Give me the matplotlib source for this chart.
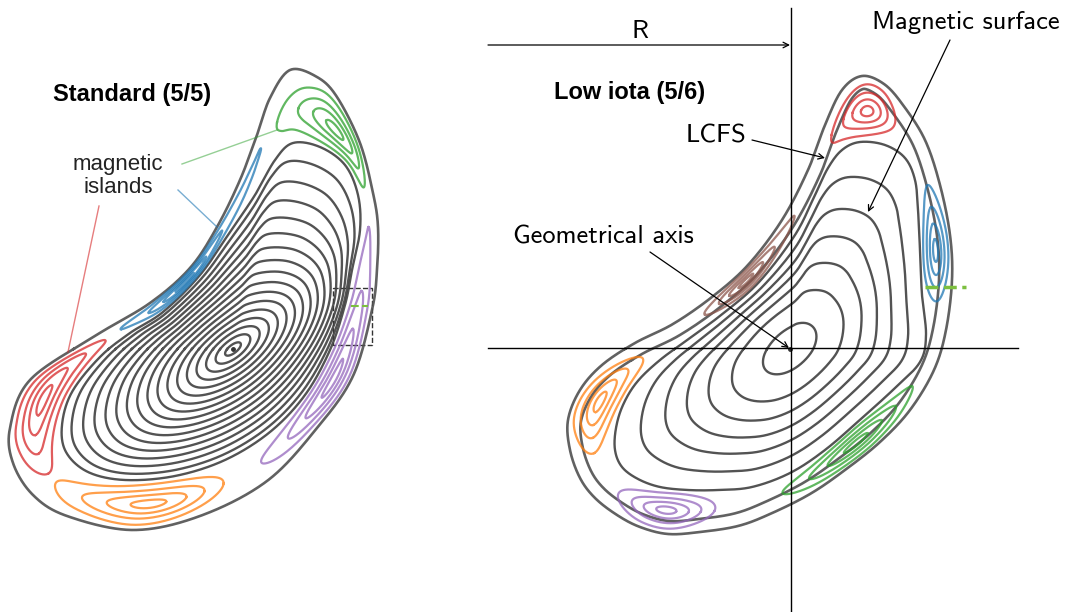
import numpy as np
import matplotlib.pyplot as plt

W, H = 1065, 612

# --- Standard configuration (5/5), left plot (pixel coordinates) ---
std_axis = (233, 349)
std_core = [(293, 143), (320, 147), (345, 165), (358, 195), (360, 230), (352, 270),
            (345, 305), (330, 350), (305, 395), (270, 432), (225, 460), (175, 476),
            (125, 480), (88, 472), (66, 452), (62, 425), (72, 392), (100, 357),
            (130, 333), (163, 312), (200, 275), (230, 232), (255, 195), (275, 160)]
std_edge = [(290, 70), (317, 77), (337, 97), (360, 143), (373, 193), (378, 227),
            (377, 270), (372, 310), (353, 376), (317, 428), (267, 481), (200, 516),
            (133, 530), (67, 516), (33, 495), (13, 463), (10, 428), (30, 380),
            (95, 336), (150, 303), (190, 268), (217, 227), (240, 180), (257, 135),
            (270, 98)]
std_ellipse = (38, 190, 82)       # tilt (deg), semi-axes of the inner surfaces
std_rho = [0.05, 0.11, 0.17, 0.23, 0.29, 0.35, 0.41, 0.47, 0.53, 0.59,
           0.65, 0.71, 0.77, 0.83, 0.89, 0.95, 1.0]
# islands: polar angle span around the axis (deg)
std_isl_span = [(51, 79), (82, 170), (176, 214), (217, 266), (-76, 42)]
std_isl_color = ['tab:green', 'tab:blue', 'tab:red', 'tab:orange', 'tab:purple']

# --- Low iota configuration (5/6), right plot ---
low_axis = (790, 349)
low_core = [(860, 142), (885, 145), (905, 158), (915, 180), (918, 210), (920, 250),
            (922, 295), (926, 335), (920, 362), (895, 388), (862, 418), (825, 450),
            (790, 473), (752, 487), (718, 490), (688, 490), (660, 487), (638, 479),
            (622, 467), (615, 450), (616, 428), (623, 405), (637, 382), (660, 360),
            (690, 338), (725, 312), (760, 281), (795, 235), (815, 195), (828, 168),
            (842, 150)]
low_edge = [(862, 76), (884, 84), (903, 105), (925, 140), (940, 185), (950, 235),
            (952, 280), (946, 330), (934, 370), (910, 410), (880, 442), (845, 470),
            (810, 494), (770, 514), (738, 526), (700, 532), (668, 534), (640, 527),
            (617, 515), (595, 498), (580, 478), (570, 450), (568, 420), (580, 390),
            (602, 365), (635, 343), (673, 324), (712, 297), (748, 265), (782, 220),
            (808, 170), (825, 125), (842, 90)]
low_ellipse = (42, 130, 75)
low_rho = [0.24, 0.47, 0.61, 0.72, 0.815, 0.91, 1.0]
low_isl_span = [(65, 79), (18, 50), (-93, -17), (-140, -115), (183, 208), (88, 158)]
low_isl_color = ['tab:red', 'tab:blue', 'tab:green', 'tab:purple', 'tab:orange', 'tab:brown']
low_outer = 13                    # spacing of the outermost surface, px

island_levels = [1.0, 0.7, 0.45, 0.2]


def closed_curve(pts, n=40):
    """Periodic Catmull-Rom curve through the outline points."""
    P = np.array(pts, dtype=float)
    N = len(P)
    t = np.linspace(0, 1, n, endpoint=False)[:, None]
    seg = []
    for i in range(N):
        p0, p1, p2, p3 = P[i - 1], P[i], P[(i + 1) % N], P[(i + 2) % N]
        seg.append(0.5 * (2 * p1 + (p2 - p0) * t
                          + (2 * p0 - 5 * p1 + 4 * p2 - p3) * t ** 2
                          + (3 * p1 - p0 - 3 * p2 + p3) * t ** 3))
    return np.vstack(seg)


def polar_profile(axis, pts):
    """Radius of the outline as a function of the polar angle around the axis."""
    xy = closed_curve(pts)
    phi = np.arctan2(axis[1] - xy[:, 1], xy[:, 0] - axis[0])
    r = np.hypot(xy[:, 0] - axis[0], xy[:, 1] - axis[1])
    order = np.argsort(phi)
    phi, r = phi[order], r[order]
    return lambda p: np.interp(p, phi, r, period=2 * np.pi)


def to_xy(axis, r, phi):
    return axis[0] + r * np.cos(phi), axis[1] - r * np.sin(phi)


def draw_config(ax, axis, core, edge, ellipse, rhos, spans, colors, n_outer=1):
    r_core = polar_profile(axis, core)
    r_edge = polar_profile(axis, edge)
    tilt, ea, eb = ellipse
    phi = np.linspace(-np.pi, np.pi, 2001)
    q = phi - np.radians(tilt)
    r_ell = 1 / np.hypot(np.cos(q) / ea, np.sin(q) / eb)
    for rho in rhos:
        w = rho ** 2
        r = rho * ((1 - w) * r_ell + w * r_core(phi))
        ax.plot(*to_xy(axis, r, phi), color='#404040', lw=1.7, alpha=0.9)

    x, y = to_xy(axis, r_edge(phi), phi)
    ax.plot(x, y, color='#505050', lw=1.9, alpha=0.9)
    if n_outer > 1:
        tx, ty = np.roll(x, -1) - np.roll(x, 1), np.roll(y, -1) - np.roll(y, 1)
        n = np.hypot(tx, ty)
        ax.plot(x + low_outer * ty / n, y - low_outer * tx / n,
                color='#505050', lw=1.9, alpha=0.9)

    t = np.linspace(0, 2 * np.pi, 400)
    for (a1, a2), c in zip(spans, colors):
        p1, p2 = np.radians(a1), np.radians(a2)
        pc, dp = (p1 + p2) / 2, (p2 - p1) / 2
        for k in island_levels:
            pp = pc + k * dp * np.cos(t)
            f = 0.5 + 0.4 * k * np.sin(t)
            r = r_core(pp) + f * (r_edge(pp) - r_core(pp))
            ax.plot(*to_xy(axis, r, pp), color=c, lw=1.6, alpha=0.75)
    ax.plot(*axis, 'o', color='#333333', ms=2.5)


fig = plt.figure(figsize=(W / 100, H / 100), dpi=100)
ax = fig.add_axes([0, 0, 1, 1])
ax.set_xlim(0, W)
ax.set_ylim(H, 0)
ax.set_aspect('equal')
ax.axis('off')

draw_config(ax, std_axis, std_core, std_edge, std_ellipse, std_rho,
            std_isl_span, std_isl_color)
draw_config(ax, low_axis, low_core, low_edge, low_ellipse, low_rho,
            low_isl_span, low_isl_color, n_outer=2)

# left plot labels
ax.text(132, 95, 'Standard (5/5)', ha='center', va='center', fontsize=17,
        fontweight='bold', family='Liberation Sans')
ax.text(118, 176, 'magnetic\nislands', ha='center', va='center', fontsize=16,
        family='Liberation Sans', linespacing=1.1, color='#222222')
ax.plot([99, 68], [206, 352], color='tab:red', lw=1.0, alpha=0.6)
ax.plot([178, 217], [190, 227], color='tab:blue', lw=1.0, alpha=0.6)
ax.plot([182, 277], [164, 130], color='tab:green', lw=1.0, alpha=0.5)
ax.add_patch(plt.Rectangle((333, 288), 39, 57, fill=False, ls='--', lw=1.0,
                           color='#333333'))
ax.plot([351, 368], [306, 306], color='#7cbf3f', lw=1.5, ls='--')

# right plot: reference frame and annotations
cm = ['cmss10', 'DejaVu Sans']
ax.plot([791, 791], [8, H], color='black', lw=1.0)
ax.plot([488, 1018], [348, 348], color='black', lw=1.0)
ax.plot([925, 966], [287, 287], color='#7cbf3f', lw=2.5, ls='--')
arrow = dict(arrowstyle='->', lw=0.9, color='black', shrinkA=0, shrinkB=0)
ax.annotate('', xy=(790, 45), xytext=(488, 45), arrowprops=arrow)
ax.text(640, 32, 'R', ha='center', va='center', fontsize=19, family=cm)
ax.text(630, 92, 'Low iota (5/6)', ha='center', va='center', fontsize=17,
        fontweight='bold', family='Liberation Sans')
ax.text(716, 136, 'LCFS', ha='center', va='center', fontsize=19, family=cm)
ax.annotate('', xy=(825, 158), xytext=(752, 140), arrowprops=arrow)
ax.text(966, 22, 'Magnetic surface', ha='center', va='center', fontsize=19, family=cm)
ax.annotate('', xy=(868, 212), xytext=(950, 40), arrowprops=arrow)
ax.text(603, 237, 'Geometrical axis', ha='center', va='center', fontsize=19, family=cm)
ax.annotate('', xy=(789, 348), xytext=(650, 252), arrowprops=arrow)

fig.savefig('out.png', dpi=100)
